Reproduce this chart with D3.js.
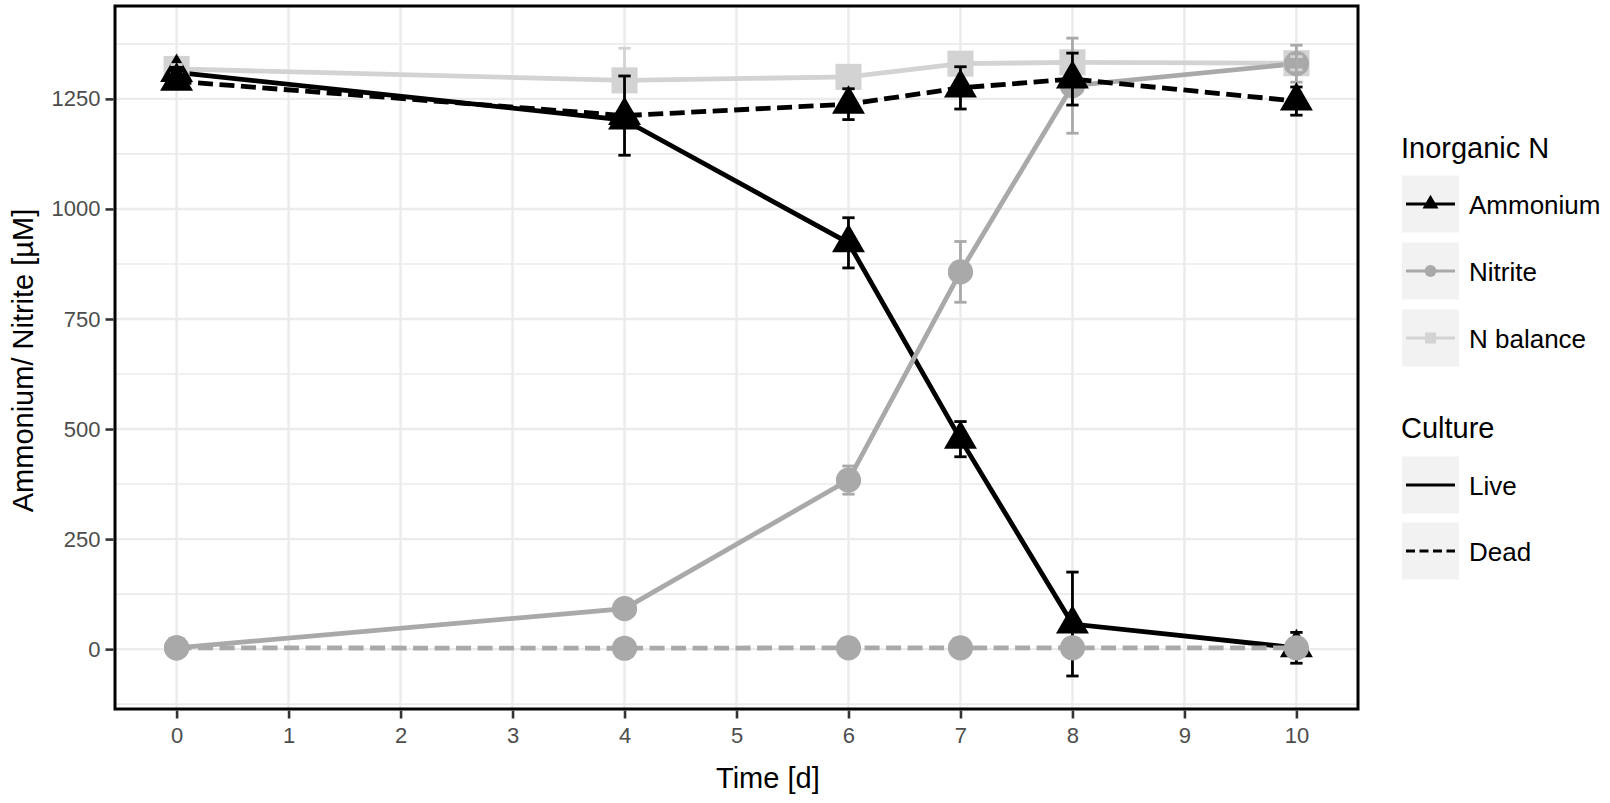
<!DOCTYPE html>
<html>
<head>
<meta charset="utf-8">
<script src="https://cdn.jsdelivr.net/npm/d3@7"></script>
<style>
  html, body { margin: 0; padding: 0; background: #fff; }
  svg text { font-family: "Liberation Sans", Arial, Helvetica, sans-serif; }
</style>
</head>
<body>
<svg id="chart" width="1610" height="803"></svg>
<script>
// ---------------- data ----------------
const days = [0, 4, 6, 7, 8, 10];
const xTicks = [0, 1, 2, 3, 4, 5, 6, 7, 8, 9, 10];
const yTicks = [0, 250, 500, 750, 1000, 1250];
const yMinorTicks = [-125, 125, 375, 625, 875, 1125, 1375];

const ammoniumLive   = [1310, 1202, 923, 477, 57, 3];
const ammoniumLiveSD = [8, 12, 57, 40, 118, 35];
const nitriteLive    = [3, 92, 384, 857, 1280, 1330];
const nitriteLiveSD  = [2, 8, 32, 69, 108, 42];
const nBalanceLive   = [1318, 1292, 1300, 1330, 1333, 1331];
const nBalanceLiveSD = [10, 73, 15, 15, 15, 15];
const ammoniumDead   = [1290, 1212, 1238, 1275, 1295, 1245];
const ammoniumDeadSD = [10, 90, 35, 48, 59, 32];
const nitriteDead    = [3, 2, 3, 3, 3, 3];
const nitriteDeadSD  = [2, 2, 2, 2, 2, 2];

const variables = ["Ammonium", "Nitrite", "N balance"];
const cultures = ["Live", "Dead"];

// ---------------- styles ----------------
const colorOf = { "Ammonium": "#000000", "Nitrite": "#a9a9a9", "N balance": "#d3d3d3" };
const shapeOf = { "Ammonium": d3.symbolTriangle, "Nitrite": d3.symbolCircle, "N balance": d3.symbolSquare };
const dashOf = { "Live": null, "Dead": "15,6.5" };

const series = [
  { variable: "N balance", culture: "Live", values: nBalanceLive, sd: nBalanceLiveSD },
  { variable: "Ammonium",  culture: "Live", values: ammoniumLive, sd: ammoniumLiveSD },
  { variable: "Nitrite",   culture: "Live", values: nitriteLive,  sd: nitriteLiveSD },
  { variable: "Ammonium",  culture: "Dead", values: ammoniumDead, sd: ammoniumDeadSD },
  { variable: "Nitrite",   culture: "Dead", values: nitriteDead,  sd: nitriteDeadSD }
];

// ---------------- layout ----------------
const svg = d3.select("#chart");
const P = { left: 115, right: 1358, top: 6, bottom: 709 };

const x = d3.scaleLinear().domain([-0.55, 10.55]).range([P.left, P.right]);
const y = d3.scaleLinear().domain([-136, 1461]).range([P.bottom, P.top]);

// panel background
svg.append("rect").attr("x", P.left).attr("y", P.top)
  .attr("width", P.right - P.left).attr("height", P.bottom - P.top).attr("fill", "#fff");

// grid
const grid = svg.append("g");
grid.selectAll(".ymin").data(yMinorTicks).join("line")
  .attr("x1", P.left).attr("x2", P.right)
  .attr("y1", d => y(d)).attr("y2", d => y(d))
  .attr("stroke", "#ebebeb").attr("stroke-width", 1.6);
grid.selectAll(".ymaj").data(yTicks).join("line")
  .attr("x1", P.left).attr("x2", P.right)
  .attr("y1", d => y(d)).attr("y2", d => y(d))
  .attr("stroke", "#ebebeb").attr("stroke-width", 2.4);
grid.selectAll(".xmaj").data(xTicks).join("line")
  .attr("y1", P.top).attr("y2", P.bottom)
  .attr("x1", d => x(d)).attr("x2", d => x(d))
  .attr("stroke", "#ebebeb").attr("stroke-width", 2.4);

// marks
svg.append("defs").append("clipPath").attr("id", "clip")
  .append("rect").attr("x", P.left).attr("y", P.top)
  .attr("width", P.right - P.left).attr("height", P.bottom - P.top);

const plot = svg.append("g").attr("clip-path", "url(#clip)");
const line = d3.line().x((d, i) => x(days[i])).y(d => y(d));
const symSize = { "Ammonium": 470, "Nitrite": 500, "N balance": 680 };
const errHalf = 0.055;

cultures.forEach(cult => {
  const ss = series.filter(s => s.culture === cult);
  // lines
  ss.forEach(s => {
    plot.append("path").datum(s.values)
      .attr("d", line).attr("fill", "none")
      .attr("stroke", colorOf[s.variable]).attr("stroke-width", 4.8)
      .attr("stroke-dasharray", dashOf[s.culture]);
  });
  // points
  ss.forEach(s => {
    plot.append("g").selectAll("path").data(s.values).join("path")
      .attr("transform", (d, i) => `translate(${x(days[i])},${y(d)})`)
      .attr("d", d3.symbol().type(shapeOf[s.variable]).size(symSize[s.variable]))
      .attr("fill", colorOf[s.variable]);
  });
  // error bars
  ss.forEach(s => {
    const g = plot.append("g").attr("stroke", colorOf[s.variable]).attr("stroke-width", 2.8).attr("fill", "none");
    s.values.forEach((v, i) => {
      const lo = v - s.sd[i], hi = v + s.sd[i];
      const xc = x(days[i]);
      g.append("line").attr("x1", xc).attr("x2", xc).attr("y1", y(lo)).attr("y2", y(hi));
      g.append("line").attr("x1", x(days[i] - errHalf)).attr("x2", x(days[i] + errHalf)).attr("y1", y(lo)).attr("y2", y(lo));
      g.append("line").attr("x1", x(days[i] - errHalf)).attr("x2", x(days[i] + errHalf)).attr("y1", y(hi)).attr("y2", y(hi));
    });
  });
});

// panel border
svg.append("rect").attr("x", P.left).attr("y", P.top)
  .attr("width", P.right - P.left).attr("height", P.bottom - P.top)
  .attr("fill", "none").attr("stroke", "#000").attr("stroke-width", 3);

// axes
const xAxis = svg.append("g").attr("transform", `translate(0,${P.bottom + 1.5})`)
  .call(d3.axisBottom(x).tickValues(xTicks).tickSize(8).tickPadding(8.5).tickFormat(d3.format("d")));
const yAxis = svg.append("g").attr("transform", `translate(${P.left - 1.5},0)`)
  .call(d3.axisLeft(y).tickValues(yTicks).tickSize(8).tickPadding(5).tickFormat(d3.format("d")));
[xAxis, yAxis].forEach(a => {
  a.select(".domain").remove();
  a.selectAll(".tick line").attr("stroke", "#333").attr("stroke-width", 2.6);
  a.selectAll(".tick text").attr("fill", "#4d4d4d").style("font-size", "22px")
    .style("font-family", '"Liberation Sans", Arial, sans-serif');
});
xAxis.selectAll(".tick text").attr("dy", "0.71em");

// axis titles
svg.append("text").attr("x", x(5.28)).attr("y", 788).attr("text-anchor", "middle")
  .style("font-size", "29px").attr("fill", "#000").text("Time [d]");
svg.append("text").attr("transform", `translate(33,${(P.top + P.bottom) / 2 + 3}) rotate(-90)`)
  .attr("text-anchor", "middle").style("font-size", "29px").attr("fill", "#000")
  .text("Ammonium/ Nitrite [µM]");

// legend
const L = { x: 1401, keyW: 57, keyH: 57, labelX: 1469 };
const leg = svg.append("g");
leg.append("text").attr("x", L.x).attr("y", 158).style("font-size", "29px").text("Inorganic N");
const varRows = [204, 271, 338];
const legSym = { "Ammonium": 110, "Nitrite": 110, "N balance": 120 };
variables.forEach((v, i) => {
  const cy = varRows[i];
  leg.append("rect").attr("x", L.x + 1).attr("y", cy - L.keyH / 2).attr("width", L.keyW).attr("height", L.keyH).attr("fill", "#f2f2f2");
  leg.append("line").attr("x1", L.x + 5).attr("x2", L.x + 54).attr("y1", cy).attr("y2", cy)
    .attr("stroke", colorOf[v]).attr("stroke-width", 3.2);
  leg.append("path").attr("transform", `translate(${L.x + 29.5},${cy})`)
    .attr("d", d3.symbol().type(shapeOf[v]).size(legSym[v])).attr("fill", colorOf[v]);
  leg.append("text").attr("x", L.labelX).attr("y", cy + 9.5).style("font-size", "26px").text(v);
});
leg.append("text").attr("x", L.x).attr("y", 438).style("font-size", "29px").text("Culture");
const cultRows = [485, 551];
cultures.forEach((c, i) => {
  const cy = cultRows[i];
  leg.append("rect").attr("x", L.x + 1).attr("y", cy - L.keyH / 2).attr("width", L.keyW).attr("height", L.keyH).attr("fill", "#f2f2f2");
  leg.append("line").attr("x1", L.x + 5).attr("x2", L.x + 54).attr("y1", cy).attr("y2", cy)
    .attr("stroke", "#000").attr("stroke-width", 3.2)
    .attr("stroke-dasharray", c === "Dead" ? "9,4.5" : null);
  leg.append("text").attr("x", L.labelX).attr("y", cy + 9.5).style("font-size", "26px").text(c);
});
</script>
</body>
</html>
